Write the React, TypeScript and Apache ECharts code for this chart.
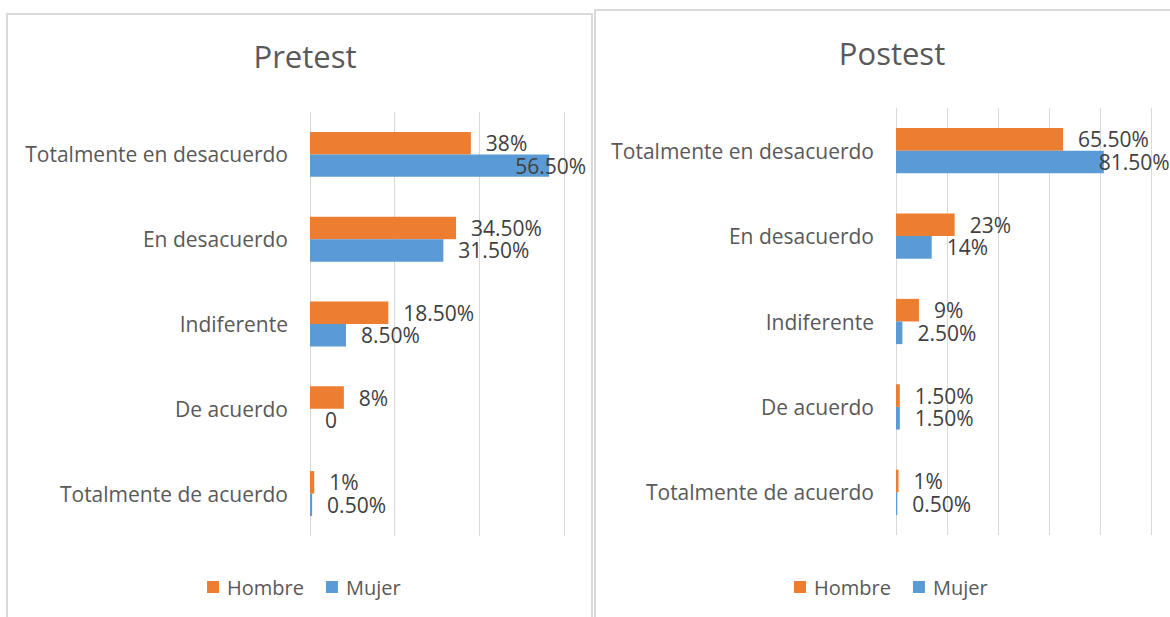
import React, { useEffect, useRef } from "react";
import * as echarts from "echarts";

const categories = [
  "Totalmente en desacuerdo",
  "En desacuerdo",
  "Indiferente",
  "De acuerdo",
  "Totalmente de acuerdo",
];
const seriesNames = ["Hombre", "Mujer"];
const panelTitles = ["Pretest", "Postest"];
const preHombre = [38, 34.5, 18.5, 8, 1];
const preMujer = [56.5, 31.5, 8.5, 0, 0.5];
const postHombre = [65.5, 23, 9, 1.5, 1];
const postMujer = [81.5, 14, 2.5, 1.5, 0.5];
const axisMax = [60, 100];
const axisStep = 20;

const ORANGE = "#ED7D31";
const BLUE = "#5B9BD5";
const FONT = "Open Sans";

function fmt(v: number): string {
  if (v === 0) return "0";
  if (Number.isInteger(v)) return v + "%";
  return v.toFixed(2) + "%";
}

// label shifts (Excel pulls labels that would overflow back into the chart area)
const labelShift: Record<string, number> = {
  "0-1-0": -49,
  "1-1-0": -20,
};

export default function App() {
  const ref = useRef<HTMLDivElement>(null);
  useEffect(() => {
    if (!ref.current) return;
    const chart = echarts.init(ref.current, undefined, { renderer: "svg" });
    const grids = [
      { left: 310, width: 254, top: 112, height: 424 },
      { left: 896, width: 255, top: 108, height: 427 },
    ];
    const panelData = [
      [preHombre, preMujer],
      [postHombre, postMujer],
    ];
    const series: any[] = [];
    panelData.forEach((pair, p) => {
      pair.forEach((vals, s) => {
        series.push({
          type: "bar",
          name: seriesNames[s],
          xAxisIndex: p,
          yAxisIndex: p,
          barGap: "0%",
          barCategoryGap: "47%",
          itemStyle: { color: s === 0 ? ORANGE : BLUE },
          label: {
            show: true,
            position: "right",
            distance: 15,
            color: "#404040",
            fontSize: 21,
            fontFamily: FONT,
            formatter: (d: any) => fmt(d.value as number),
          },
          data: vals.map((v, i) => {
            const sh = labelShift[`${p}-${s}-${i}`];
            return sh !== undefined ? { value: v, label: { offset: [sh, 0] } } : v;
          }),
        });
      });
    });
    const legendBase = {
      data: seriesNames,
      top: 577,
      padding: 0,
      icon: "rect",
      itemWidth: 12,
      itemHeight: 12,
      itemGap: 22,
      textStyle: { fontFamily: FONT, fontSize: 20, color: "#595959", padding: [0, 0, 0, 3] },
    };
    chart.setOption({
      animation: false,
      backgroundColor: "#ffffff",
      title: [
        {
          text: panelTitles[0],
          left: 300,
          top: 35,
          textAlign: "center",
          textStyle: { fontFamily: FONT, fontSize: 31, fontWeight: "normal", color: "#595959" },
        },
        {
          text: panelTitles[1],
          left: 887,
          top: 32,
          textAlign: "center",
          textStyle: { fontFamily: FONT, fontSize: 31, fontWeight: "normal", color: "#595959" },
        },
      ],
      legend: [
        { ...legendBase, left: 207 },
        { ...legendBase, left: 794 },
      ],
      grid: grids,
      xAxis: axisMax.map((m, i) => ({
        type: "value",
        gridIndex: i,
        min: 0,
        max: m,
        interval: axisStep,
        axisLabel: { show: false },
        axisLine: { show: false },
        axisTick: { show: false },
        splitLine: { show: true, lineStyle: { color: "#d9d9d9", width: 1 } },
      })),
      yAxis: [0, 1].map((i) => ({
        type: "category",
        gridIndex: i,
        inverse: true,
        data: categories,
        axisLine: { show: false },
        axisTick: { show: false },
        axisLabel: { margin: 22, fontSize: 21, fontFamily: FONT, color: "#595959" },
      })),
      series,
      graphic: [
        {
          type: "rect",
          shape: { x: 7, y: 14, width: 585, height: 640 },
          style: { fill: "none", stroke: "#d9d9d9", lineWidth: 2 },
          silent: true,
        },
        {
          type: "rect",
          shape: { x: 595, y: 10, width: 620, height: 640 },
          style: { fill: "none", stroke: "#d9d9d9", lineWidth: 2 },
          silent: true,
        },
      ],
    });
    return () => chart.dispose();
  }, []);
  return (
    <div
      ref={ref}
      style={{ position: "absolute", left: 0, top: 0, width: 1170, height: 617 }}
    />
  );
}
